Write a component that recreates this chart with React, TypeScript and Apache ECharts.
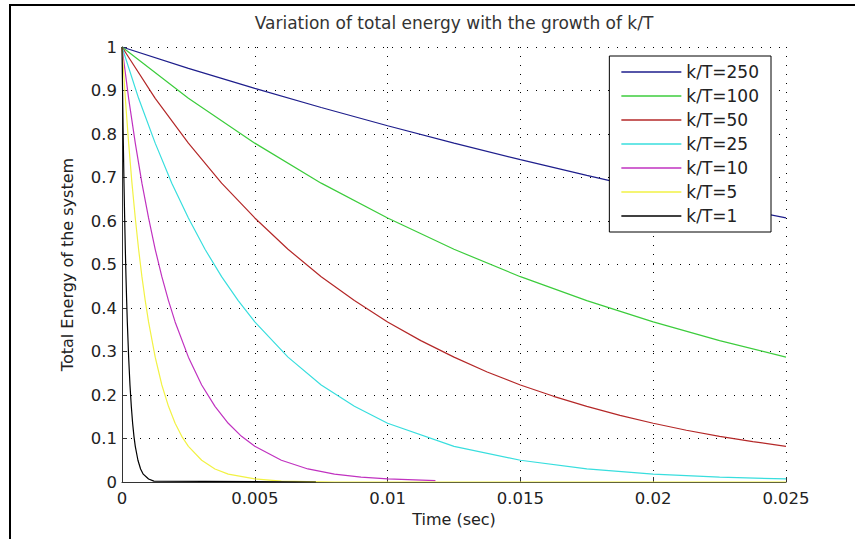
import React, { useEffect, useRef } from "react";
import * as echarts from "echarts";

const titleText = "Variation of total energy with the growth of k/T";
const xName = "Time (sec)";
const yName = "Total Energy of the system";
const xTicks = [0, 0.005, 0.01, 0.015, 0.02, 0.025];
const yTicks = [0, 0.1, 0.2, 0.3, 0.4, 0.5, 0.6, 0.7, 0.8, 0.9, 1];

const seriesNames = ["k/T=250", "k/T=100", "k/T=50", "k/T=25", "k/T=10", "k/T=5", "k/T=1"];
const seriesColors = ["#1e1e8c", "#3ccc3c", "#b42828", "#38dede", "#c032c0", "#f2f244", "#000000"];

const t250 = [0, 0.0025, 0.005, 0.0075, 0.01, 0.0125, 0.015, 0.0175, 0.02, 0.0225, 0.025];
const e250 = [1, 0.951, 0.905, 0.861, 0.819, 0.779, 0.741, 0.705, 0.67, 0.638, 0.607];

const t100 = [0, 0.0025, 0.005, 0.0075, 0.01, 0.0125, 0.015, 0.0175, 0.02, 0.0225, 0.025];
const e100 = [1, 0.882, 0.779, 0.687, 0.607, 0.535, 0.472, 0.417, 0.368, 0.325, 0.287];

const t50 = [0, 0.00125, 0.0025, 0.00375, 0.005, 0.00625, 0.0075, 0.00875, 0.01, 0.01125, 0.0125, 0.01375, 0.015, 0.01625, 0.0175, 0.01875, 0.02, 0.02125, 0.0225, 0.02375, 0.025];
const e50 = [1, 0.882, 0.779, 0.687, 0.607, 0.535, 0.472, 0.417, 0.368, 0.325, 0.287, 0.253, 0.223, 0.197, 0.174, 0.153, 0.135, 0.119, 0.105, 0.093, 0.082];

const t25 = [0, 0.000625, 0.00125, 0.001875, 0.0025, 0.003125, 0.00375, 0.004375, 0.005, 0.00625, 0.0075, 0.00875, 0.01, 0.0125, 0.015, 0.0175, 0.02, 0.0225, 0.025];
const e25 = [1, 0.882, 0.779, 0.687, 0.607, 0.535, 0.472, 0.417, 0.368, 0.287, 0.223, 0.174, 0.135, 0.082, 0.05, 0.03, 0.018, 0.011, 0.007];

const t10 = [0, 0.00025, 0.0005, 0.00075, 0.001, 0.00125, 0.0015, 0.00175, 0.002, 0.0025, 0.003, 0.0035, 0.004, 0.0045, 0.005, 0.006, 0.007, 0.008, 0.009, 0.01, 0.0118];
const e10 = [1, 0.882, 0.779, 0.687, 0.607, 0.535, 0.472, 0.417, 0.368, 0.287, 0.223, 0.174, 0.135, 0.105, 0.082, 0.05, 0.03, 0.018, 0.011, 0.007, 0.003];

const t5 = [0, 0.000125, 0.00025, 0.000375, 0.0005, 0.000625, 0.00075, 0.000875, 0.001, 0.00125, 0.0015, 0.00175, 0.002, 0.00225, 0.0025, 0.003, 0.0035, 0.004, 0.005, 0.006, 0.007, 0.008, 0.025];
const e5 = [1, 0.882, 0.779, 0.687, 0.607, 0.535, 0.472, 0.417, 0.368, 0.287, 0.223, 0.174, 0.135, 0.105, 0.082, 0.05, 0.03, 0.018, 0.007, 0.002, 0.001, 0, 0];

const t1 = [0, 0.000025, 0.00005, 0.000075, 0.0001, 0.000125, 0.00015, 0.000175, 0.0002, 0.00025, 0.0003, 0.00035, 0.0004, 0.00045, 0.0005, 0.0006, 0.0007, 0.0008, 0.001, 0.0012, 0.0073];
const e1 = [1, 0.882, 0.779, 0.687, 0.607, 0.535, 0.472, 0.417, 0.368, 0.287, 0.223, 0.174, 0.135, 0.105, 0.082, 0.05, 0.03, 0.018, 0.007, 0.002, 0];

const allT = [t250, t100, t50, t25, t10, t5, t1];
const allE = [e250, e100, e50, e25, e10, e5, e1];

const FONT = "DejaVu Sans";

export default function App() {
  const ref = useRef<HTMLDivElement>(null);
  useEffect(() => {
    if (!ref.current) return;
    const chart = echarts.init(ref.current, undefined, { renderer: "svg" });
    const series = seriesNames.map((name, i) => ({
      name,
      type: "line",
      data: allT[i].map((t, j) => [t, allE[i][j]]),
      symbol: "none",
      smooth: false,
      lineStyle: { width: 1.2, color: seriesColors[i] },
      itemStyle: { color: seriesColors[i] },
      z: 3,
    }));
    chart.setOption({
      animation: false,
      backgroundColor: "#ffffff",
      textStyle: { fontFamily: FONT },
      title: {
        text: titleText,
        left: 454,
        textAlign: "center",
        top: 14,
        padding: 0,
        textStyle: { fontFamily: FONT, fontSize: 17, fontWeight: "normal", color: "#333" },
      },
      graphic: [
        {
          type: "rect",
          shape: { x: 10, y: 5, width: 900, height: 600 },
          style: { fill: "none", stroke: "#000", lineWidth: 2 },
          silent: true,
        },
      ],
      grid: { left: 122, right: 69, top: 47, bottom: 57 },
      legend: {
        orient: "vertical",
        right: 84,
        top: 56,
        data: seriesNames,
        icon: "rect",
        itemWidth: 60,
        itemHeight: 1.3,
        itemGap: 0,
        padding: [4, 12, 4, 12],
        backgroundColor: "#fff",
        borderColor: "#000",
        borderWidth: 1,
        borderRadius: 0,
        textStyle: { fontFamily: FONT, fontSize: 17, color: "#222", lineHeight: 24 },
        z: 10,
      },
      xAxis: {
        type: "value",
        min: xTicks[0],
        max: xTicks[xTicks.length - 1],
        interval: 0.005,
        name: xName,
        nameLocation: "middle",
        nameGap: 27,
        nameTextStyle: { fontFamily: FONT, fontSize: 16, color: "#222" },
        axisLine: { show: true, lineStyle: { color: "#333", width: 1 } },
        axisTick: { show: true, inside: true, length: 5, lineStyle: { color: "#333" } },
        axisLabel: { fontFamily: FONT, fontSize: 16.5, color: "#222", margin: 8 },
        splitLine: { show: true, lineStyle: { color: "#000", width: 1, type: [1, 8] } },
      },
      yAxis: {
        type: "value",
        min: yTicks[0],
        max: yTicks[yTicks.length - 1],
        interval: 0.1,
        name: yName,
        nameLocation: "middle",
        nameGap: 47,
        nameRotate: 90,
        nameTextStyle: { fontFamily: FONT, fontSize: 16, color: "#222" },
        axisLine: { show: true, lineStyle: { color: "#333", width: 1 } },
        axisTick: { show: true, inside: true, length: 5, lineStyle: { color: "#333" } },
        axisLabel: { fontFamily: FONT, fontSize: 16.5, color: "#222", margin: 5 },
        splitLine: { show: true, lineStyle: { color: "#000", width: 1, type: [1, 8] } },
      },
      series,
    });
    return () => chart.dispose();
  }, []);
  return (
    <div
      ref={ref}
      style={{ position: "fixed", left: 0, top: 0, width: 855, height: 539, background: "#fff" }}
    />
  );
}
